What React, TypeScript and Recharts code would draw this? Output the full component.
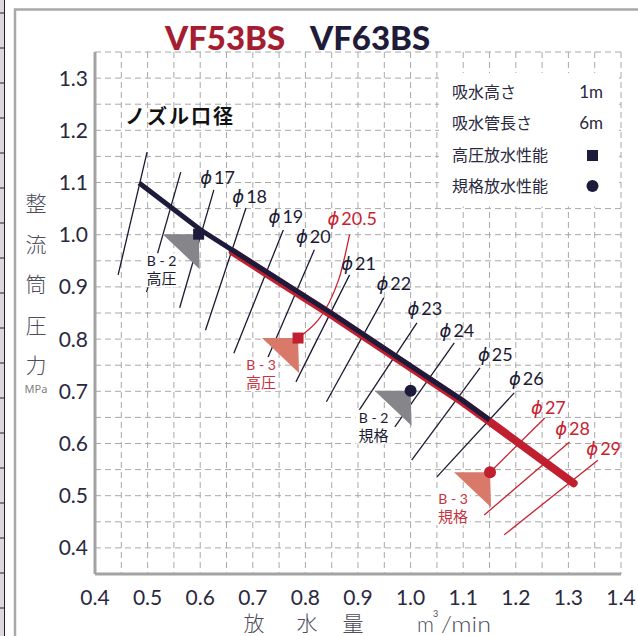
import React from 'react';
import { ComposedChart, Line, Scatter, XAxis, YAxis, CartesianGrid, ReferenceArea } from 'recharts';

const W = 638;
const H = 636;

const NAVY = '#1d1b3b';
const RED = '#c11f2f';
const RED_TEXT = '#c8222f';
const NAVY_TEXT = '#1b1a33';
const GRAY_TRI = '#85858a';
const SALMON = '#d8796a';
const TICK_TEXT = '#2a2940';
const AXIS_GRAY = '#a3a3a3';

// axis ticks (every 0.05 for the grid, labels every 0.1)
const xTicks = [0.4, 0.45, 0.5, 0.55, 0.6, 0.65, 0.7, 0.75, 0.8, 0.85, 0.9, 0.95, 1.0, 1.05, 1.1, 1.15, 1.2, 1.25, 1.3, 1.35, 1.4];
const yTicks = [0.35, 0.4, 0.45, 0.5, 0.55, 0.6, 0.65, 0.7, 0.75, 0.8, 0.85, 0.9, 0.95, 1.0, 1.05, 1.1, 1.15, 1.2, 1.25, 1.3, 1.35];

// performance curves (flow m3/min, pressure MPa)
const vf63Curve = [
  { x: 0.484, y: 1.099 },
  { x: 0.601, y: 1.009 },
  { x: 0.721, y: 0.932 },
  { x: 0.849, y: 0.85 },
  { x: 0.977, y: 0.764 },
  { x: 1.098, y: 0.683 },
  { x: 1.15, y: 0.645 },
];
const vf53Curve = [
  { x: 0.662, y: 0.967 },
  { x: 0.721, y: 0.929 },
  { x: 0.849, y: 0.847 },
  { x: 0.977, y: 0.761 },
  { x: 1.098, y: 0.68 },
  { x: 1.15, y: 0.642 },
  { x: 1.31, y: 0.524 },
];

// nozzle diameter lines
const nozzleA = [{ x: 0.444, y: 0.923 }, { x: 0.499, y: 1.158 }];
const nozzleB = [{ x: 0.498, y: 0.89 }, { x: 0.563, y: 1.12 }];
const nozzle17 = [{ x: 0.561, y: 0.86 }, { x: 0.626, y: 1.086 }];
const nozzle18 = [{ x: 0.61, y: 0.817 }, { x: 0.687, y: 1.051 }];
const nozzle19 = [{ x: 0.664, y: 0.773 }, { x: 0.758, y: 1.009 }];
const nozzle20 = [{ x: 0.725, y: 0.756 }, { x: 0.817, y: 0.971 }];
const nozzle205 = [{ x: 0.786, y: 0.802 }, { x: 0.863, y: 0.913 }, { x: 0.884, y: 1.0 }];
const nozzle21 = [{ x: 0.782, y: 0.718 }, { x: 0.884, y: 0.923 }];
const nozzle22 = [{ x: 0.84, y: 0.68 }, { x: 0.949, y: 0.879 }];
const nozzle23 = [{ x: 0.901, y: 0.662 }, { x: 1.012, y: 0.831 }];
const nozzle24 = [{ x: 0.97, y: 0.632 }, { x: 1.083, y: 0.793 }];
const nozzle25 = [{ x: 1.002, y: 0.568 }, { x: 1.132, y: 0.745 }];
const nozzle26 = [{ x: 1.05, y: 0.536 }, { x: 1.197, y: 0.697 }];
const nozzle27 = [{ x: 1.151, y: 0.545 }, { x: 1.255, y: 0.649 }];
const nozzle28 = [{ x: 1.14, y: 0.463 }, { x: 1.302, y: 0.603 }];
const nozzle29 = [{ x: 1.178, y: 0.425 }, { x: 1.356, y: 0.568 }];

const blackNozzles = [nozzleA, nozzleB, nozzle17, nozzle18, nozzle19, nozzle20, nozzle21, nozzle22, nozzle23, nozzle24, nozzle25, nozzle26];
const redNozzles = [nozzle205, nozzle27, nozzle28, nozzle29];

const blackNozzleLabels = [
  { x: 0.633, y: 1.109, text: '17' },
  { x: 0.694, y: 1.072, text: '18' },
  { x: 0.763, y: 1.034, text: '19' },
  { x: 0.815, y: 0.996, text: '20' },
  { x: 0.901, y: 0.944, text: '21' },
  { x: 0.968, y: 0.906, text: '22' },
  { x: 1.027, y: 0.858, text: '23' },
  { x: 1.088, y: 0.816, text: '24' },
  { x: 1.161, y: 0.77, text: '25' },
  { x: 1.22, y: 0.724, text: '26' },
];
const redNozzleLabels = [
  { x: 0.889, y: 1.03, text: '20.5' },
  { x: 1.262, y: 0.668, text: '27' },
  { x: 1.308, y: 0.628, text: '28' },
  { x: 1.367, y: 0.589, text: '29' },
];

// rated points
const highPressurePoints = [
  { x: 0.597, y: 1.001, model: 'B-2' },
  { x: 0.786, y: 0.802, model: 'B-3' },
];
const standardPoints = [
  { x: 1.0, y: 0.701, model: 'B-2' },
  { x: 1.151, y: 0.545, model: 'B-3' },
];

const isTenth = (v: number) => Math.abs(v * 10 - Math.round(v * 10)) < 1e-6;
const fmt = (v: number) => (isTenth(v) ? v.toFixed(1) : '');

const Pointer = (props: any) => {
  const { cx, cy, payload } = props;
  const c = payload.model === 'B-2' ? GRAY_TRI : SALMON;
  return <polygon points={`${cx - 36},${cy} ${cx},${cy} ${cx + 1},${cy + 35}`} fill={c} />;
};

const makeModelLabel = (kind: string) => (props: any) => {
  const { cx, cy, payload } = props;
  const c = payload.model === 'B-2' ? NAVY_TEXT : '#c8323d';
  const label = payload.model === 'B-2' ? 'B - 2' : 'B - 3';
  return (
    <g>
      <rect x={cx - 55} y={cy + 19} width={35} height={34} fill="#fff" />
      <text x={cx - 37} y={cy + 32} textAnchor="middle" fontSize={14} fontFamily="Lato, 'Noto Sans', sans-serif" fill={c}>
        {label}
      </text>
      <text x={cx - 37} y={cy + 50} textAnchor="middle" fontSize={15} fontFamily="'Noto Sans CJK JP', sans-serif" fill={c}>
        {kind}
      </text>
    </g>
  );
};

const SquareMark = (props: any) => {
  const { cx, cy, payload } = props;
  return <rect x={cx - 5.5} y={cy - 5.5} width={11} height={11} fill={payload.model === 'B-2' ? NAVY : RED} />;
};
const CircleMark = (props: any) => {
  const { cx, cy, payload } = props;
  return <circle cx={cx} cy={cy} r={6} fill={payload.model === 'B-2' ? NAVY : RED} />;
};

const makePhiLabel = (color: string) => (props: any) => {
  const { cx, cy, payload } = props;
  return (
    <text x={cx} y={cy} dy={6} textAnchor="middle" fontSize={18} fontFamily="Lato, 'DejaVu Sans', sans-serif" fill={color}>
      <tspan fontFamily="'DejaVu Sans'" fontStyle="italic">ϕ</tspan>
      <tspan dx={2}>{payload.text}</tspan>
    </text>
  );
};

const stripLines = [13, 48, 83, 118, 153, 188, 223, 258, 293, 328, 363, 398, 433, 468, 503, 538, 573, 608];

export default function App() {
  return (
    <div style={{ position: 'absolute', left: 0, top: 0, width: W, height: H, background: '#fff', overflow: 'hidden' }}>
      <div style={{ position: 'absolute', left: 0, top: 0 }}>
        <ComposedChart width={W} height={H} margin={{ top: 52, right: 17, bottom: 32, left: 55 }}>
          <CartesianGrid stroke="#a8a8a8" strokeDasharray="6 4" strokeWidth={1} />
          <XAxis
            dataKey="x"
            type="number"
            domain={[0.4, 1.4]}
            ticks={xTicks}
            interval={0}
            tickFormatter={fmt}
            allowDataOverflow
            height={30}
            tickLine={false}
            tickSize={0}
            tickMargin={16}
            axisLine={{ stroke: AXIS_GRAY, strokeWidth: 3 }}
            tick={{ fill: TICK_TEXT, fontSize: 21, fontFamily: 'Lato, sans-serif' }}
          />
          <YAxis
            dataKey="y"
            type="number"
            domain={[0.35, 1.35]}
            ticks={yTicks}
            interval={0}
            tickFormatter={fmt}
            allowDataOverflow
            width={40}
            tickLine={false}
            tickSize={0}
            tickMargin={7}
            axisLine={{ stroke: AXIS_GRAY, strokeWidth: 3 }}
            tick={{ fill: TICK_TEXT, fontSize: 21, fontFamily: 'Lato, sans-serif' }}
          />
          <ReferenceArea x1={1.054} x2={1.396} y1={1.054} y2={1.31} fill="#fff" fillOpacity={1} stroke="none" />
          <Scatter data={[...highPressurePoints, ...standardPoints]} shape={Pointer} isAnimationActive={false} />
          {blackNozzles.map((d, i) => (
            <Line key={'b' + i} data={d} dataKey="y" type="linear" stroke={NAVY_TEXT} strokeWidth={1.3} dot={false} activeDot={false} isAnimationActive={false} />
          ))}
          {redNozzles.map((d, i) => (
            <Line key={'r' + i} data={d} dataKey="y" type="monotone" stroke={RED_TEXT} strokeWidth={1.3} dot={false} activeDot={false} isAnimationActive={false} />
          ))}
          <Line data={vf53Curve} dataKey="y" type="linear" stroke={RED} strokeWidth={8} strokeLinecap="round" dot={false} activeDot={false} isAnimationActive={false} />
          <Line data={vf63Curve} dataKey="y" type="linear" stroke={NAVY} strokeWidth={5} dot={false} activeDot={false} isAnimationActive={false} />
          <Scatter data={highPressurePoints} shape={makeModelLabel('高圧')} isAnimationActive={false} />
          <Scatter data={standardPoints} shape={makeModelLabel('規格')} isAnimationActive={false} />
          <Scatter data={highPressurePoints} shape={SquareMark} isAnimationActive={false} />
          <Scatter data={standardPoints} shape={CircleMark} isAnimationActive={false} />
          <Scatter data={blackNozzleLabels} shape={makePhiLabel(NAVY_TEXT)} isAnimationActive={false} />
          <Scatter data={redNozzleLabels} shape={makePhiLabel(RED_TEXT)} isAnimationActive={false} />
        </ComposedChart>
      </div>
      <svg width={W} height={H} style={{ position: 'absolute', left: 0, top: 0, pointerEvents: 'none' }}>
        <rect x={0} y={0} width={4} height={H} fill="#ddd8dd" />
        <line x1={4.5} y1={0} x2={4.5} y2={H} stroke="#222" strokeWidth={1} />
        {stripLines.map((y) => (
          <line key={y} x1={0} y1={y} x2={4} y2={y} stroke="#222" strokeWidth={1} />
        ))}
        <path d={`M15,${H} L15,9.5 L${W},9.5`} stroke="#a9a9a9" strokeWidth={2.5} fill="none" />
        <text x={165} y={50} fontSize={33} fontWeight={900} fontFamily="Lato, sans-serif" fill="#a51d30">VF53BS</text>
        <text x={310} y={50} fontSize={33} fontWeight={900} fontFamily="Lato, sans-serif" fill="#1f1c3a">VF63BS</text>
        <text x={125} y={124} fontSize={20} fontWeight={700} letterSpacing={2} fontFamily="'Noto Sans CJK JP', sans-serif" fill="#111">ノズル口径</text>
        <g fontFamily="'Noto Sans CJK JP', sans-serif" fontSize={16} fill={TICK_TEXT}>
          <text x={452} y={98}>吸水高さ</text>
          <text x={452} y={129}>吸水管長さ</text>
          <text x={452} y={161}>高圧放水性能</text>
          <text x={452} y={192}>規格放水性能</text>
        </g>
        <text x={603} y={98} textAnchor="end" fontSize={17} fontFamily="Lato, sans-serif" fill={TICK_TEXT}>1m</text>
        <text x={603} y={129} textAnchor="end" fontSize={17} fontFamily="Lato, sans-serif" fill={TICK_TEXT}>6m</text>
        <rect x={587} y={150} width={11} height={11} fill={NAVY} />
        <circle cx={592.5} cy={186} r={6} fill={NAVY} />
        <g fontFamily="'Noto Sans CJK JP', sans-serif" fontSize={21} fontWeight={300} fill="#4d4d5c" textAnchor="middle">
          <text x={36} y={211}>整</text>
          <text x={36} y={252}>流</text>
          <text x={36} y={292}>筒</text>
          <text x={36} y={333}>圧</text>
          <text x={36} y={373}>力</text>
        </g>
        <text x={36} y={393} textAnchor="middle" fontSize={11} fontFamily="'Noto Sans', sans-serif" fill="#808080">MPa</text>
        <g fontFamily="'Noto Sans CJK JP', sans-serif" fontSize={21} fontWeight={300} fill="#4d4d5c" textAnchor="middle">
          <text x={254} y={631}>放</text>
          <text x={307} y={631}>水</text>
          <text x={353} y={631}>量</text>
        </g>
        <text x={417} y={632} fontSize={21} fontFamily="Lato, sans-serif" fontWeight={300} fill="#4d4d5c">m</text>
        <text x={433} y={617} fontSize={9} fontFamily="Lato, sans-serif" fill="#4d4d5c">3</text>
        <text x={441} y={632} fontSize={21} fontFamily="Lato, sans-serif" fontWeight={300} fill="#4d4d5c" textLength={50} lengthAdjust="spacingAndGlyphs">/min</text>
      </svg>
    </div>
  );
}
